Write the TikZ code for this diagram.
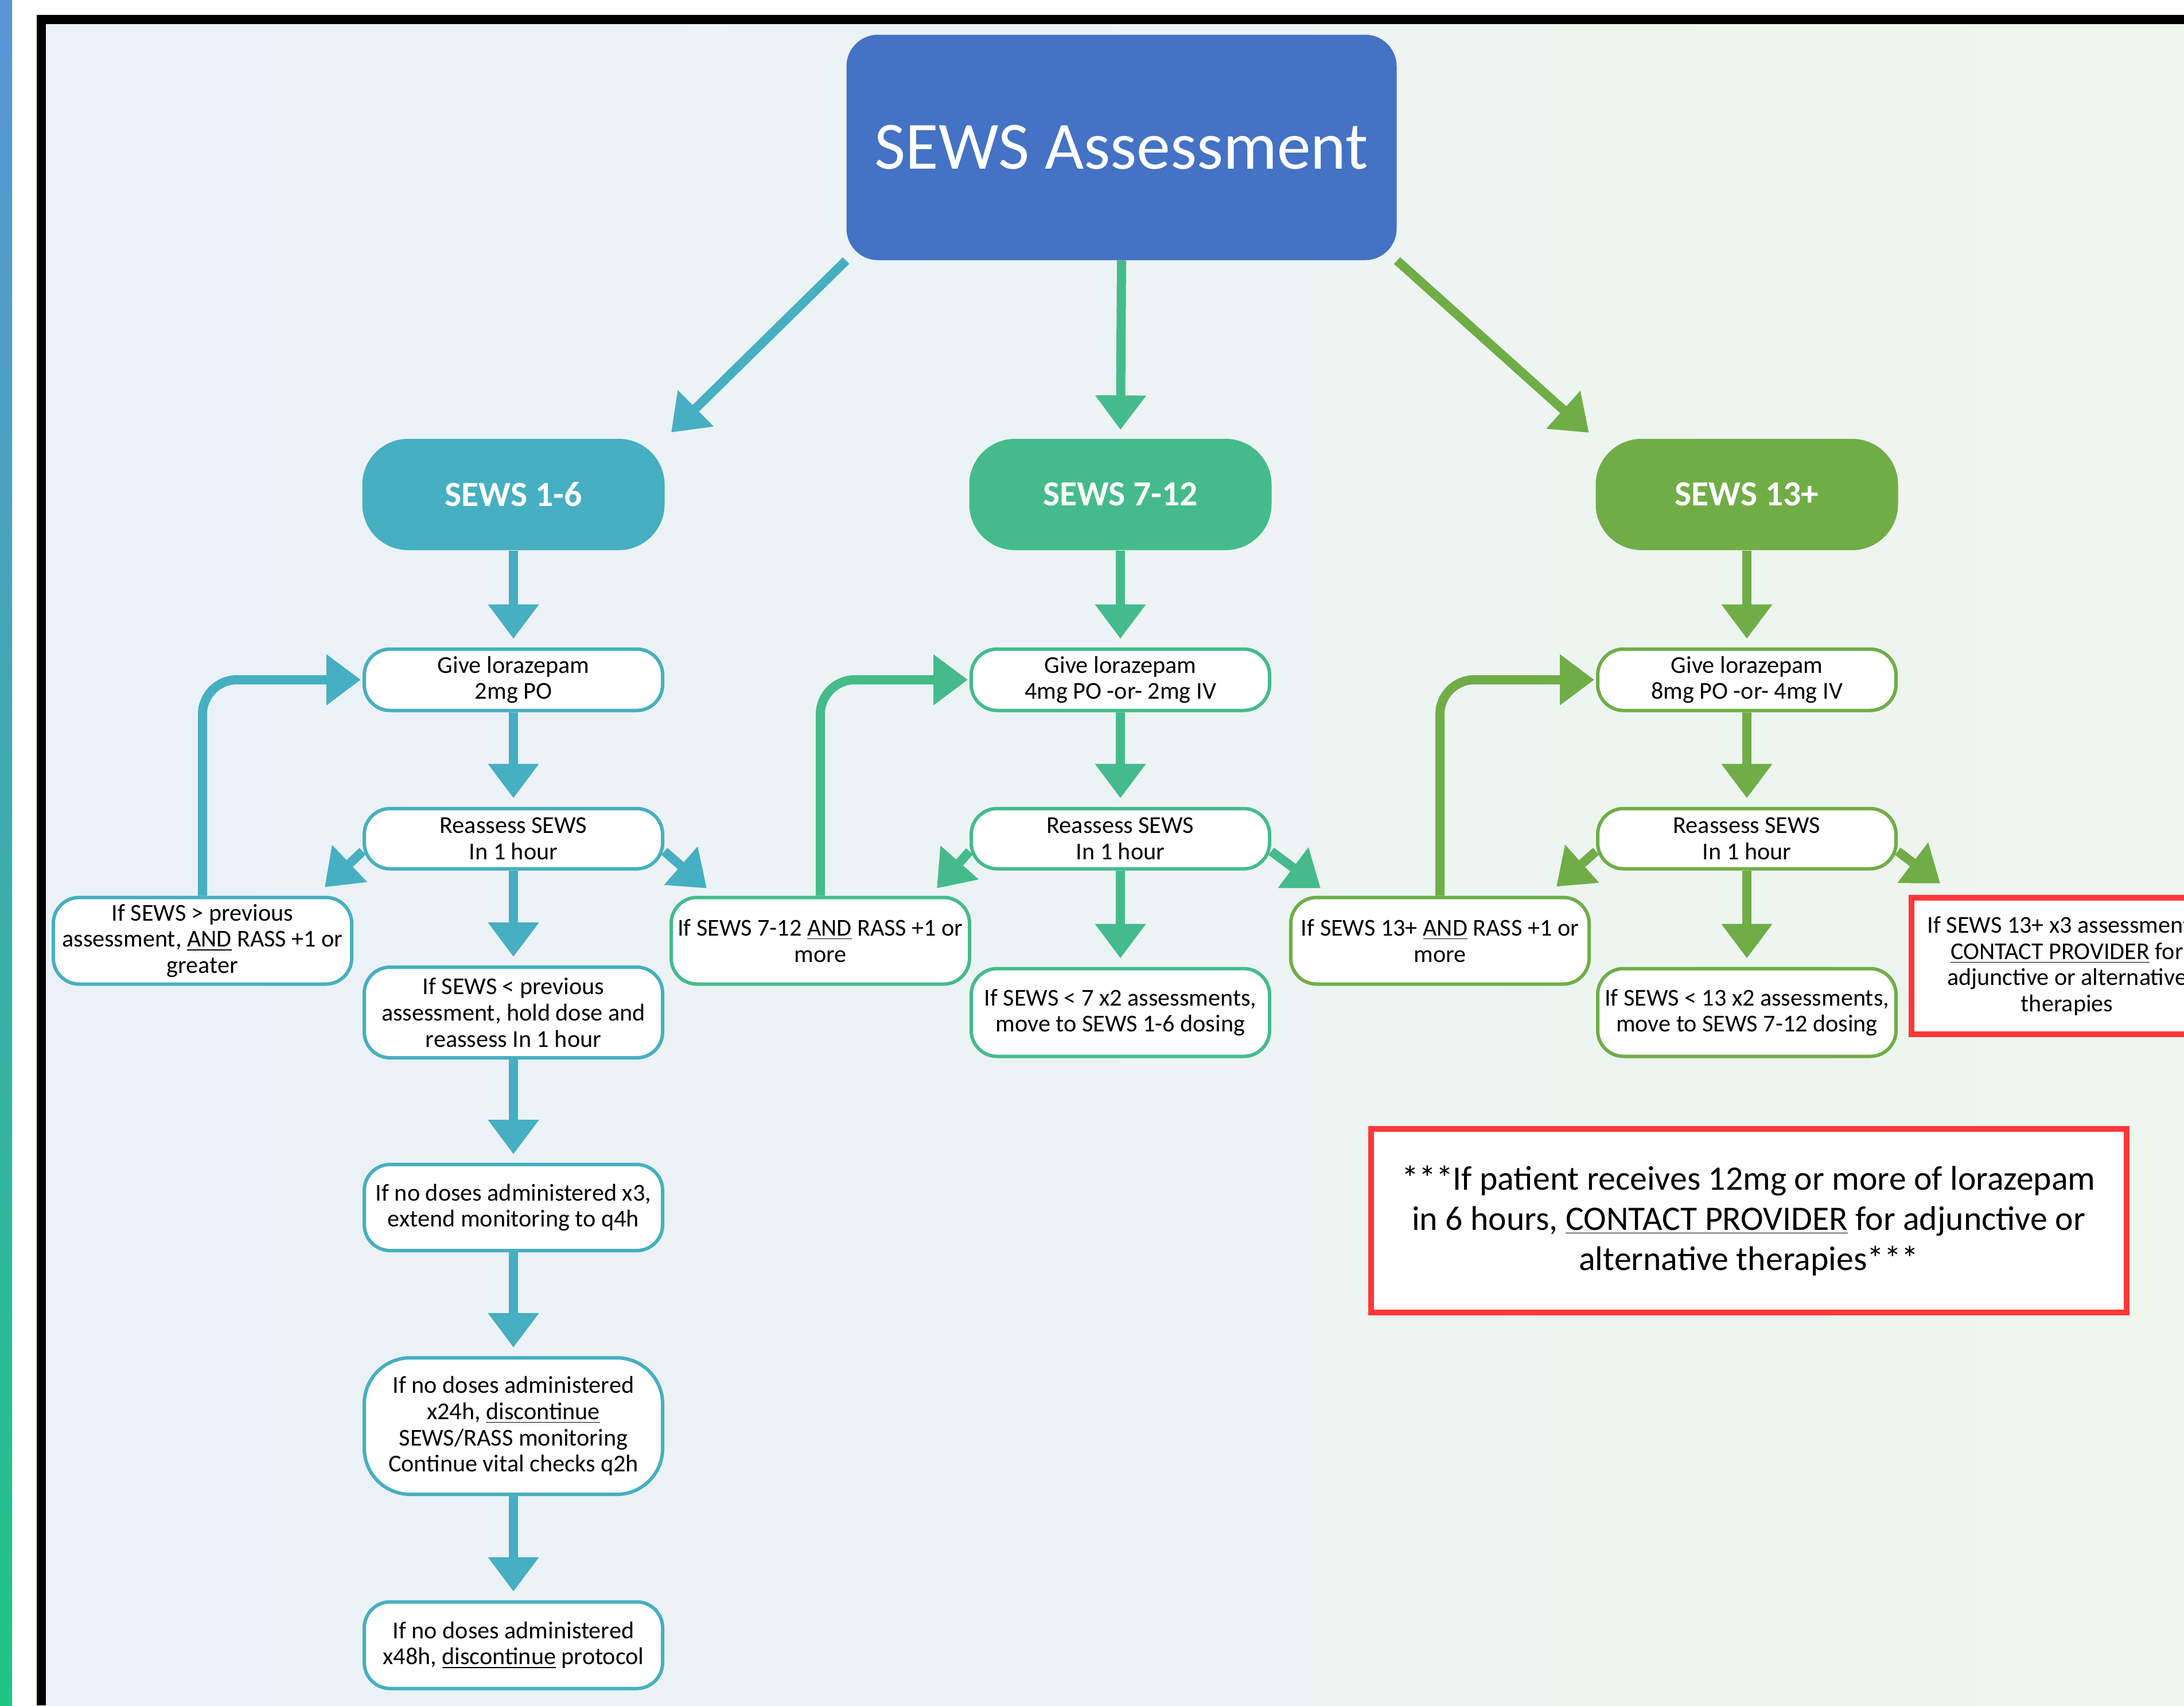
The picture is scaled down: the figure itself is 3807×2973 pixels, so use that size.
\documentclass[tikz,border=0pt]{standalone}
\usepackage{fontspec}
\setmainfont{Carlito}
\usetikzlibrary{arrows.meta}
\definecolor{sewsblue}{HTML}{4472C4}
\definecolor{sewsteal}{HTML}{46AFC1}
\definecolor{sewsmint}{HTML}{45BB8C}
\definecolor{sewsgreen}{HTML}{70AD47}
\definecolor{sewsred}{HTML}{FF3838}
\definecolor{bgleft}{HTML}{EBF1F9}
\definecolor{bgright}{HTML}{EEF6EE}
\definecolor{stripblue}{HTML}{5B94D6}
\definecolor{stripteal}{HTML}{3AAFC0}
\definecolor{stripgreen}{HTML}{1FC585}

\begin{document}
\begin{tikzpicture}[x=0.1mm,y=-0.1mm,
  >={Triangle[width=8.5mm,length=6mm]},
  flow/.style={->,line width=1.6mm,shorten >=1.5mm},
  hdr/.style={rounded corners=8mm,minimum width=52.7mm,minimum height=19.4mm,
    text=white,font=\bfseries\fontsize{17.5}{20}\selectfont},
  stepbox/.style={draw,fill=white,line width=0.6mm,rounded corners=4.5mm,
    minimum width=52mm,inner sep=1mm,align=center,
    font=\fontsize{12}{13}\selectfont},
  alert/.style={draw=sewsred,fill=white,line width=1mm,align=center}]
  \useasboundingbox (0,0) rectangle (3807,2973);
  \clip (0,0) rectangle (3807,2973);
  % frame and background
  \fill[white] (0,0) rectangle (3807,2973);
  \shade[top color=stripblue,middle color=stripteal,bottom color=stripgreen] (0,0) rectangle (21,2973);
  \fill[black] (64,26) rectangle (3807,2973);
  \shade[left color=bgleft,right color=bgright] (80,42) rectangle (3807,2973);
  % title and score bands
  \node[fill=sewsblue,rounded corners=5.5mm,minimum width=95.9mm,minimum height=39.3mm,
    text=white,font=\fontsize{33.5}{38}\selectfont] (title) at (1955,257) {SEWS Assessment};
  \node[hdr,fill=sewsteal]  (s16)  at (895,862)  {SEWS 1-6};
  \node[hdr,fill=sewsmint]  (s712) at (1953,862) {SEWS 7-12};
  \node[hdr,fill=sewsgreen] (s13)  at (3045,862) {SEWS 13+};
  % dosing
  \node[stepbox,draw=sewsteal,minimum height=10.7mm]  (give16)  at (895,1185)  {Give lorazepam\\2mg PO};
  \node[stepbox,draw=sewsmint,minimum height=10.7mm]  (give712) at (1953,1185) {Give lorazepam\\4mg PO -or- 2mg IV};
  \node[stepbox,draw=sewsgreen,minimum height=10.7mm] (give13)  at (3045,1185) {Give lorazepam\\8mg PO -or- 4mg IV};
  % reassessment
  \node[stepbox,draw=sewsteal,minimum height=10.5mm]  (re16)  at (895,1462)  {Reassess SEWS\\In 1 hour};
  \node[stepbox,draw=sewsmint,minimum height=10.5mm]  (re712) at (1953,1462) {Reassess SEWS\\In 1 hour};
  \node[stepbox,draw=sewsgreen,minimum height=10.5mm] (re13)  at (3045,1462) {Reassess SEWS\\In 1 hour};
  % escalation
  \node[stepbox,draw=sewsteal,minimum height=15.1mm]  (side16)  at (353,1640)
    {If SEWS > previous\\assessment, \underline{AND} RASS +1 or\\greater};
  \node[stepbox,draw=sewsmint,minimum height=15.1mm]  (side712) at (1430,1640)
    {If SEWS 7-12 \underline{AND} RASS +1 or\\more};
  \node[stepbox,draw=sewsgreen,minimum height=15.1mm] (side13)  at (2510,1640)
    {If SEWS 13+ \underline{AND} RASS +1 or\\more};
  \node[alert,minimum width=54.2mm,minimum height=23.8mm,font=\fontsize{12}{13}\selectfont] (side3x) at (3603,1684)
    {If SEWS 13+ x3 assessments,\\\underline{CONTACT PROVIDER} for\\adjunctive or alternative\\therapies};
  % de-escalation
  \node[stepbox,draw=sewsteal,minimum height=15.8mm]  (hold) at (895,1765)
    {If SEWS < previous\\assessment, hold dose and\\reassess In 1 hour};
  \node[stepbox,draw=sewsmint,minimum height=15.3mm]  (lt7)  at (1953,1765)
    {If SEWS < 7 x2 assessments,\\move to SEWS 1-6 dosing};
  \node[stepbox,draw=sewsgreen,minimum height=15.3mm] (lt13) at (3045,1765)
    {If SEWS < 13 x2 assessments,\\move to SEWS 7-12 dosing};
  \node[stepbox,draw=sewsteal,minimum height=15mm]   (x3)  at (895,2105)
    {If no doses administered x3,\\extend monitoring to q4h};
  \node[stepbox,draw=sewsteal,minimum height=23.8mm,rounded corners=8mm] (x24) at (895,2486)
    {If no doses administered\\x24h, \underline{discontinue}\\SEWS/RASS monitoring\\Continue vital checks q2h};
  \node[stepbox,draw=sewsteal,minimum height=15.1mm] (x48) at (895,2868)
    {If no doses administered\\x48h, \underline{discontinue} protocol};
  \node[alert,minimum width=131.7mm,minimum height=32mm,font=\fontsize{17}{20}\selectfont] (note) at (3048,2128)
    {***If patient receives 12mg or more of lorazepam\\in 6 hours, \underline{CONTACT PROVIDER} for adjunctive or\\alternative therapies***};
  % arrows
  \draw[flow,sewsteal]  (title.south west) -- (s16.north east);
  \draw[flow,sewsmint]  (title.south) -- (s712.north);
  \draw[flow,sewsgreen] (title.south east) -- (s13.north west);
  \foreach \c/\col in {16/sewsteal,712/sewsmint,13/sewsgreen} {
    \draw[flow,\col] (s\c.south) -- (give\c.north);
    \draw[flow,\col] (give\c.south) -- (re\c.north);
    \draw[flow,\col,rounded corners=6mm,shorten >=0.3mm] (side\c.north) |- (give\c.west);
  }
  \draw[flow,sewsteal]  (re16.south) -- (hold.north);
  \draw[flow,sewsmint]  (re712.south) -- (lt7.north);
  \draw[flow,sewsgreen] (re13.south) -- (lt13.north);
  \draw[flow,sewsteal]  (hold.south) -- (x3.north);
  \draw[flow,sewsteal]  (x3.south) -- (x24.north);
  \draw[flow,sewsteal]  (x24.south) -- (x48.north);
  % side branches
  \draw[flow,sewsteal,shorten >=0pt]  ([yshift=-2.2mm]re16.west) -- ([xshift=-5mm,yshift=1.5mm]side16.north east);
  \draw[flow,sewsteal,shorten >=0pt]  ([yshift=-2.2mm]re16.east) -- ([xshift=6.5mm,yshift=1.3mm]side712.north west);
  \draw[flow,sewsmint,shorten >=0pt]  ([yshift=-2.2mm]re712.west) -- ([xshift=-6mm,yshift=1.3mm]side712.north east);
  \draw[flow,sewsmint,shorten >=0pt]  ([yshift=-2.2mm]re712.east) -- ([xshift=5.5mm,yshift=1.3mm]side13.north west);
  \draw[flow,sewsgreen,shorten >=0pt] ([yshift=-2.2mm]re13.west) -- ([xshift=-6mm,yshift=1.6mm]side13.north east);
  \draw[flow,sewsgreen,shorten >=0pt] ([yshift=-2.2mm]re13.east) -- ([xshift=5.5mm,yshift=2mm]side3x.north west);
\end{tikzpicture}
\end{document}
